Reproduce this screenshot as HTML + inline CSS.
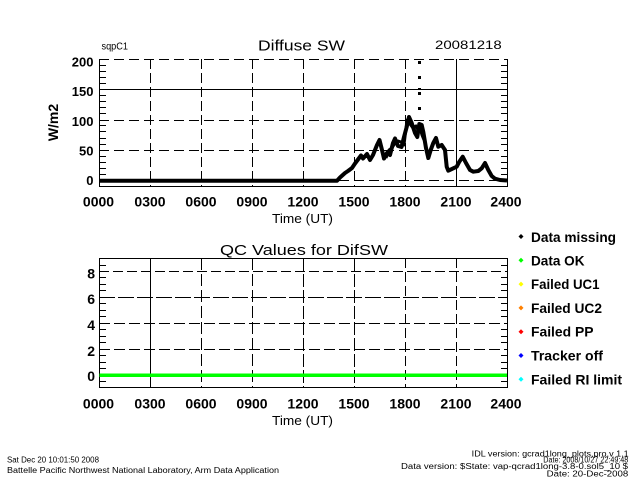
<!DOCTYPE html>
<html><head><meta charset="utf-8"><style>
html,body{margin:0;padding:0;background:#fff;}
svg{display:block;}
text{font-family:"Liberation Sans",sans-serif;fill:#000;}
.t{font-weight:bold;font-size:13px;}
.xl{font-weight:bold;font-size:14px;text-anchor:middle;}
.lg{font-weight:bold;font-size:14px;}
.ft{font-size:8px;}
</style></head><body>
<svg width="640" height="480" viewBox="0 0 640 480" xmlns="http://www.w3.org/2000/svg">
<rect width="640" height="480" fill="#fff"/>

<!-- ===== TOP PLOT ===== -->
<text x="101.5" y="49.5" font-size="10" textLength="26.5" lengthAdjust="spacingAndGlyphs">sqpC1</text>
<text x="258" y="50.5" font-size="14.5" textLength="87" lengthAdjust="spacingAndGlyphs">Diffuse SW</text>
<text x="435" y="49" font-size="12" textLength="66.7" lengthAdjust="spacingAndGlyphs">20081218</text>

<g stroke="#000" stroke-width="1" fill="none">
  <!-- grid horizontals -->
  <line x1="99" y1="59.5" x2="507" y2="59.5" stroke-dasharray="10 5"/>
  <line x1="99" y1="89.5" x2="507" y2="89.5"/>
  <line x1="99" y1="120.5" x2="507" y2="120.5" stroke-dasharray="10 5"/>
  <line x1="99" y1="150.5" x2="507" y2="150.5" stroke-dasharray="10 5"/>
  <line x1="99" y1="180.5" x2="507" y2="180.5" stroke-dasharray="10 5"/>
  <!-- grid verticals -->
  <line x1="150.5" y1="59" x2="150.5" y2="186" stroke-dasharray="10 4"/>
  <line x1="201.5" y1="59" x2="201.5" y2="186" stroke-dasharray="10 4"/>
  <line x1="252.5" y1="59" x2="252.5" y2="186" stroke-dasharray="10 4"/>
  <line x1="303.5" y1="59" x2="303.5" y2="186" stroke-dasharray="10 4"/>
  <line x1="354.5" y1="59" x2="354.5" y2="186" stroke-dasharray="10 4"/>
  <line x1="405.5" y1="59" x2="405.5" y2="186" stroke-dasharray="10 4"/>
  <line x1="456.5" y1="59" x2="456.5" y2="186"/>
  <!-- axes -->
  <line x1="99.5" y1="59" x2="99.5" y2="187"/>
  <line x1="507.5" y1="59" x2="507.5" y2="187"/>
  <line x1="99" y1="186.5" x2="508" y2="186.5"/>
  <!-- minor ticks -->
  <path d="M99 174.5h7M99 168.5h7M99 162.5h7M99 156.5h7M99 144.5h7M99 138.5h7M99 131.5h7M99 125.5h7M99 113.5h7M99 107.5h7M99 101.5h7M99 95.5h7M99 83.5h7M99 77.5h7M99 71.5h7M99 65.5h7"/>
  <path d="M501 174.5h7M501 168.5h7M501 162.5h7M501 156.5h7M501 144.5h7M501 138.5h7M501 131.5h7M501 125.5h7M501 113.5h7M501 107.5h7M501 101.5h7M501 95.5h7M501 83.5h7M501 77.5h7M501 71.5h7M501 65.5h7"/>
</g>

<!-- data -->
<polyline fill="none" stroke="#000" stroke-width="4" stroke-linejoin="round" points="99,180.7 337,180.7 340,177.5 345,173 348,171 352,168 355,163.5 358,159.5 361,155.5 363,158.5 367,154 370,160 373,155 377,145 379.5,140 382,150 384,158.5 387,153 390,155 393,143 395,138.5 398,146 401.5,147 404,137 406.7,127 409,117 411.7,123 415,133 417.3,137 419.3,124 421.7,125 423.3,132 426,148 428.3,158 430.7,150 433.3,143 436,138 438.3,146.7 441.7,145 445,150 446.7,166.7 448.3,170.7 453.3,168.3 456.7,166.7 459.3,161.7 462.7,156.7 466,163 470,170 473.3,171.7 478.3,171 481.7,168.3 485,163 488.3,170 491.7,176 495,178.7 500,180 507,180.5"/>
<polyline fill="none" stroke="#000" stroke-width="3" stroke-linejoin="round" points="386,158 389,150 392,148 395,143 398,141 401,142 404,145 407,120 410,124 413,128 416,126 418,130 420,128 422,135 424,140"/>
<g fill="#000">
  <rect x="418" y="61" width="3" height="3"/>
  <rect x="418" y="76" width="3" height="3"/>
  <rect x="418" y="88" width="3" height="2"/>
  <rect x="418" y="92" width="3" height="3"/>
  <rect x="418" y="107" width="3" height="3"/>
  <rect x="444" y="154" width="3" height="3"/>
</g>

<!-- y labels top -->
<g class="t" text-anchor="end">
  <text x="93.5" y="66.7">200</text>
  <text x="93.5" y="96">150</text>
  <text x="93.5" y="126">100</text>
  <text x="93.5" y="155.3">50</text>
  <text x="93.5" y="185">0</text>
</g>
<text transform="translate(58,122.5) rotate(-90)" font-size="14" font-weight="bold" text-anchor="middle">W/m2</text>

<!-- x labels top -->
<g class="xl">
  <text x="98.5" y="206.7">0000</text>
  <text x="150" y="206.7">0300</text>
  <text x="201" y="206.7">0600</text>
  <text x="252" y="206.7">0900</text>
  <text x="303" y="206.7">1200</text>
  <text x="354" y="206.7">1500</text>
  <text x="405" y="206.7">1800</text>
  <text x="456" y="206.7">2100</text>
  <text x="506" y="206.7">2400</text>
</g>
<text x="302.5" y="223" font-size="13" text-anchor="middle" textLength="61" lengthAdjust="spacingAndGlyphs">Time (UT)</text>

<!-- ===== BOTTOM PLOT ===== -->
<text x="220" y="255" font-size="15" textLength="168" lengthAdjust="spacingAndGlyphs">QC Values for DifSW</text>

<g stroke="#000" stroke-width="1" fill="none">
  <line x1="99" y1="271.5" x2="507" y2="271.5" stroke-dasharray="10 4"/>
  <line x1="99" y1="297.5" x2="507" y2="297.5" stroke-dasharray="16 3"/>
  <line x1="99" y1="323.5" x2="507" y2="323.5" stroke-dasharray="11 4"/>
  <line x1="99" y1="349.5" x2="507" y2="349.5" stroke-dasharray="11 4"/>
  <line x1="150.5" y1="258" x2="150.5" y2="388"/>
  <line x1="201.5" y1="258" x2="201.5" y2="388" stroke-dasharray="12 4"/>
  <line x1="252.5" y1="258" x2="252.5" y2="388" stroke-dasharray="12 4"/>
  <line x1="303.5" y1="258" x2="303.5" y2="388" stroke-dasharray="13 3"/>
  <line x1="354.5" y1="258" x2="354.5" y2="388" stroke-dasharray="13 3"/>
  <line x1="405.5" y1="258" x2="405.5" y2="388" stroke-dasharray="10 4"/>
  <line x1="456.5" y1="258" x2="456.5" y2="388" stroke-dasharray="10 4"/>
  <rect x="99.5" y="258.5" width="408" height="129"/>
  <path d="M99 381.5h7M99 368.5h7M99 362.5h7M99 355.5h7M99 342.5h7M99 336.5h7M99 329.5h7M99 316.5h7M99 310.5h7M99 303.5h7M99 290.5h7M99 284.5h7M99 277.5h7M99 265.5h7"/>
  <path d="M501 381.5h7M501 368.5h7M501 362.5h7M501 355.5h7M501 342.5h7M501 336.5h7M501 329.5h7M501 316.5h7M501 310.5h7M501 303.5h7M501 290.5h7M501 284.5h7M501 277.5h7M501 265.5h7"/>
</g>
<line x1="99.5" y1="375.2" x2="507" y2="375.2" stroke="#00ff00" stroke-width="3.5"/>

<g class="t" text-anchor="end" style="font-size:14px">
  <text x="95" y="278.3">8</text>
  <text x="95" y="304.2">6</text>
  <text x="95" y="330.1">4</text>
  <text x="95" y="356">2</text>
  <text x="95" y="381">0</text>
</g>

<g class="xl">
  <text x="98.5" y="408.7">0000</text>
  <text x="150" y="408.7">0300</text>
  <text x="201" y="408.7">0600</text>
  <text x="252" y="408.7">0900</text>
  <text x="303" y="408.7">1200</text>
  <text x="354" y="408.7">1500</text>
  <text x="405" y="408.7">1800</text>
  <text x="456" y="408.7">2100</text>
  <text x="506" y="408.7">2400</text>
</g>
<text x="302.5" y="425" font-size="13" text-anchor="middle" textLength="61" lengthAdjust="spacingAndGlyphs">Time (UT)</text>

<!-- legend -->
<g>
  <polygon points="521,234 523.5,236.5 521,239 518.5,236.5" fill="#000"/>
  <polygon points="521,257.8 523.5,260.3 521,262.8 518.5,260.3" fill="#00ff00"/>
  <polygon points="521,281.6 523.5,284.1 521,286.6 518.5,284.1" fill="#ffff00"/>
  <polygon points="521,305.4 523.5,307.9 521,310.4 518.5,307.9" fill="#ff8000"/>
  <polygon points="521,329.2 523.5,331.7 521,334.2 518.5,331.7" fill="#ff0000"/>
  <polygon points="521,353 523.5,355.5 521,358 518.5,355.5" fill="#0000ff"/>
  <polygon points="521,376.8 523.5,379.3 521,381.8 518.5,379.3" fill="#00ffff"/>
</g>
<g class="lg">
  <text x="531" y="241.8" textLength="85" lengthAdjust="spacingAndGlyphs">Data missing</text>
  <text x="531" y="265.3" textLength="53.5" lengthAdjust="spacingAndGlyphs">Data OK</text>
  <text x="531" y="289.1" textLength="68.5" lengthAdjust="spacingAndGlyphs">Failed UC1</text>
  <text x="531" y="312.9" textLength="71" lengthAdjust="spacingAndGlyphs">Failed UC2</text>
  <text x="531" y="336.7" textLength="62.5" lengthAdjust="spacingAndGlyphs">Failed PP</text>
  <text x="531" y="360.5" textLength="72" lengthAdjust="spacingAndGlyphs">Tracker off</text>
  <text x="531" y="384.3" textLength="91" lengthAdjust="spacingAndGlyphs">Failed RI limit</text>
</g>

<!-- footer -->
<g class="ft">
  <text x="7" y="462.7" textLength="92" lengthAdjust="spacingAndGlyphs">Sat Dec 20 10:01:50 2008</text>
  <text x="7" y="473.2" textLength="272" lengthAdjust="spacingAndGlyphs">Battelle Pacific Northwest National Laboratory, Arm Data Application</text>
  <text x="471.7" y="456.5" textLength="157" lengthAdjust="spacingAndGlyphs">IDL version: gcrad1long_plots.pro,v 1.1</text>
  <text x="543.3" y="462.5" textLength="85" lengthAdjust="spacingAndGlyphs">Date: 2008/10/27 22:49:48</text>
  <text x="401" y="469" textLength="227" lengthAdjust="spacingAndGlyphs">Data version: $State: vap-qcrad1long-3.8-0.sol5_10 $</text>
  <text x="546.7" y="476.5" textLength="81.5" lengthAdjust="spacingAndGlyphs">Date: 20-Dec-2008</text>
</g>
</svg>
</body></html>
